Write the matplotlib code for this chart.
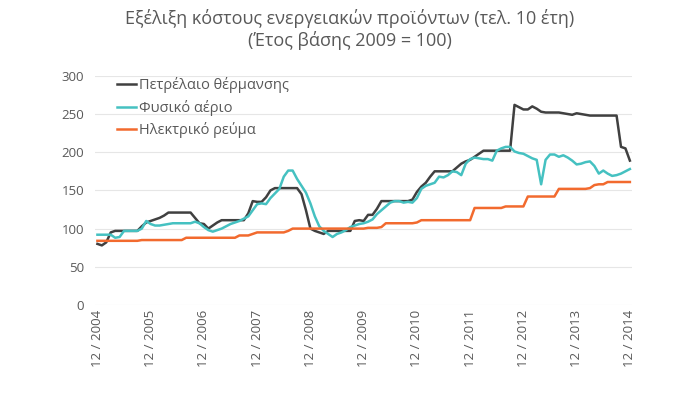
import numpy as np
import matplotlib
matplotlib.use("Agg")
import matplotlib.pyplot as plt

plt.rcParams['font.family'] = ['Open Sans', 'DejaVu Sans']

# monthly index values, 12/2004 ... 12/2014 (base 2009 = 100)
oil = [80, 78, 82, 95, 97, 97, 97, 97, 97, 97,
       103, 108, 110, 112, 114, 117, 121, 121, 121, 121,
       121, 121, 114, 107, 106, 100, 104, 108, 111, 111,
       111, 111, 111, 111, 120, 136, 135, 135, 141, 150,
       153, 153, 153, 153, 153, 153, 145, 124, 100, 97,
       95, 93, 97, 97, 97, 97, 97, 97, 110, 111,
       110, 118, 118, 126, 136, 136, 136, 136, 136, 136,
       136, 138, 148, 155, 160, 168, 175, 175, 175, 175,
       175, 180, 185, 188, 190, 194, 198, 202, 202, 202,
       202, 202, 202, 202, 262, 259, 256, 256, 260, 257,
       253, 252, 252, 252, 252, 251, 250, 249, 251, 250,
       249, 248, 248, 248, 248, 248, 248, 248, 207, 205,
       189]
gas = [92, 92, 92, 92, 88, 89, 97, 97, 97, 97,
       100, 110, 106, 104, 104, 105, 106, 107, 107, 107,
       107, 107, 109, 107, 102, 98, 96, 98, 100, 103,
       106, 108, 110, 113, 116, 124, 132, 133, 132, 140,
       146, 152, 168, 176, 176, 165, 156, 147, 133, 116,
       103, 97, 93, 89, 93, 95, 98, 102, 104, 106,
       107, 109, 112, 119, 124, 129, 134, 136, 136, 134,
       135, 134, 140, 152, 156, 158, 160, 168, 167, 170,
       175, 174, 170, 185, 191, 193, 192, 191, 191, 189,
       202, 205, 207, 207, 201, 199, 198, 195, 192, 190,
       158, 190, 197, 197, 194, 196, 193, 189, 184, 185,
       187, 188, 182, 172, 176, 172, 169, 170, 172, 175,
       178]
power = [84, 84, 84, 84, 84, 84, 84, 84, 84, 84,
         85, 85, 85, 85, 85, 85, 85, 85, 85, 85,
         88, 88, 88, 88, 88, 88, 88, 88, 88, 88,
         88, 88, 91, 91, 91, 93, 95, 95, 95, 95,
         95, 95, 95, 97, 100, 100, 100, 100, 100, 100,
         100, 100, 100, 100, 100, 100, 100, 100, 100, 100,
         100, 101, 101, 101, 102, 107, 107, 107, 107, 107,
         107, 107, 108, 111, 111, 111, 111, 111, 111, 111,
         111, 111, 111, 111, 111, 127, 127, 127, 127, 127,
         127, 127, 129, 129, 129, 129, 129, 142, 142, 142,
         142, 142, 142, 142, 152, 152, 152, 152, 152, 152,
         152, 153, 157, 158, 158, 161, 161, 161, 161, 161,
         161]

names = ["Πετρέλαιο θέρμανσης", "Φυσικό αέριο", "Ηλεκτρικό ρεύμα"]
colors = ["#404040", "#45c1c1", "#f26a2e"]
years = [str(y) for y in range(2004, 2015)]
tick_labels = ["12 / " + y for y in years]

months = np.arange(len(oil))

fig = plt.figure(figsize=(7, 3.93), dpi=100)
ax = fig.add_axes([0.136, 0.224, 0.767, 0.583])

for vals, name, c in zip([oil, gas, power], names, colors):
    ax.plot(months, vals, color=c, lw=1.8, label=name)

ax.set_ylim(0, 300)
ax.set_xlim(-0.5, 120.5)
ax.set_yticks(range(0, 301, 50))
ax.set_xticks(np.arange(0, 121, 12))
ax.set_xticklabels(tick_labels, rotation=90)
ax.tick_params(length=0, colors="#595959", labelsize=9.5)
ax.tick_params(axis='y', pad=8)
ax.grid(axis='y', color="#e6e6e6", lw=0.8)
ax.set_axisbelow(True)
for s in ax.spines.values():
    s.set_visible(False)

leg = ax.legend(loc="upper left", bbox_to_anchor=(0.03, 1.02), frameon=False,
                fontsize=10.5, handlelength=1.3, handletextpad=0.2,
                labelspacing=0.45, borderaxespad=0)
for t in leg.get_texts():
    t.set_color("#595959")

fig.text(0.5, 0.953, "Εξέλιξη κόστους ενεργειακών προϊόντων (τελ. 10 έτη)",
         ha="center", va="center", fontsize=13, color="#595959")
fig.text(0.5, 0.897, "(Έτος βάσης 2009 = 100)",
         ha="center", va="center", fontsize=13, color="#595959")

fig.savefig("out.png", dpi=100)
